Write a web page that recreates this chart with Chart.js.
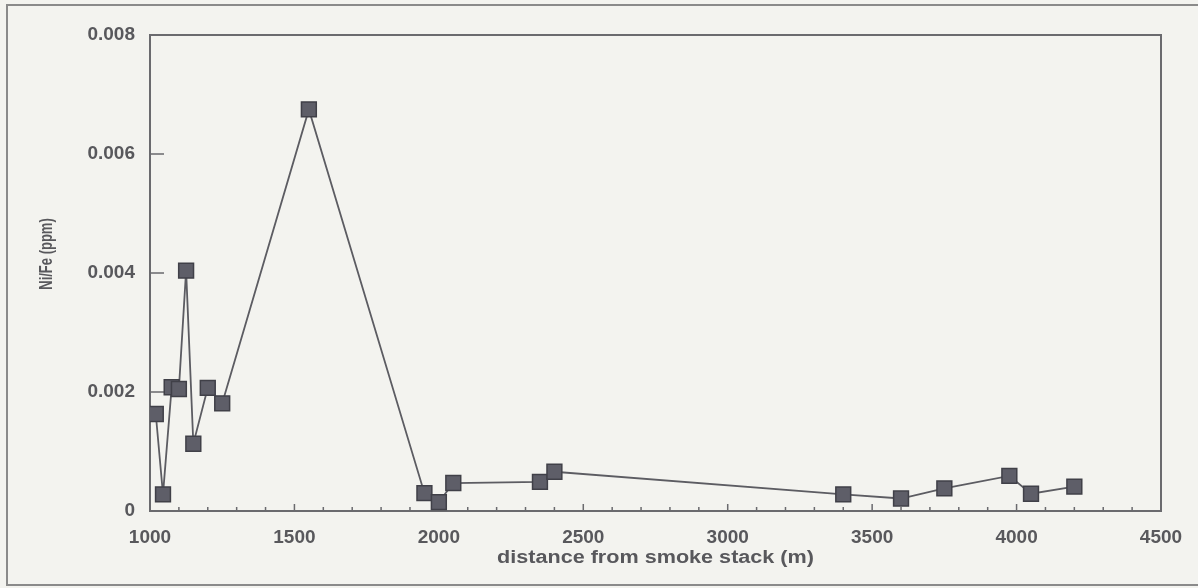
<!DOCTYPE html>
<html>
<head>
<meta charset="utf-8">
<script src="https://cdn.jsdelivr.net/npm/chart.js@4"></script>
<style>
  html, body { margin: 0; padding: 0; background: #f3f3ef; }
  #wrap { width: 1198px; height: 588px; position: relative; }
</style>
</head>
<body>
<div id="wrap"><canvas id="c" width="1198" height="588"></canvas></div>
<script>
// Distance from the smoke stack (m) for each sample
const distances = [1020, 1045, 1075, 1100, 1125, 1150, 1200, 1250, 1550, 1950,
                   2000, 2050, 2350, 2400, 3400, 3600, 3750, 3975, 4050, 4200];
// Ni/Fe ratio (ppm) measured at each distance
const niFe = [0.00163, 0.00028, 0.00208, 0.00205, 0.00404, 0.00113, 0.00207, 0.00181, 0.00675, 0.00030,
              0.00015, 0.00047, 0.00049, 0.00066, 0.00028, 0.00021, 0.00038, 0.00059, 0.00029, 0.00041];
// Axis tick values
const xTicks = [1000, 1500, 2000, 2500, 3000, 3500, 4000, 4500];
const yTicks = [0, 0.002, 0.004, 0.006, 0.008];
const xTitle = 'distance from smoke stack (m)';
const yTitle = 'Ni/Fe (ppm)';

const points = distances.map((d, i) => ({ x: d, y: niFe[i] }));
const ink = '#58585c';

// Frame, inward tick marks and axis titles
const decor = {
  id: 'decor',
  beforeDatasetsDraw(chart) {
    const { ctx, chartArea: a, scales: { x, y } } = chart;
    ctx.save();
    // outer frame (left, top, bottom)
    ctx.strokeStyle = '#8a8a8a';
    ctx.lineWidth = 2;
    ctx.beginPath();
    ctx.moveTo(1198, 5); ctx.lineTo(7, 5); ctx.lineTo(7, 585); ctx.lineTo(1198, 585);
    ctx.stroke();
    // plot box
    ctx.strokeStyle = '#6a6a6e';
    ctx.lineWidth = 2;
    ctx.strokeRect(a.left, a.top, a.right - a.left, a.bottom - a.top);
    // x ticks: minor every 100, major every 500
    ctx.lineWidth = 1.5;
    ctx.beginPath();
    for (let v = x.min + 100; v < x.max; v += 100) {
      const px = x.getPixelForValue(v);
      const len = (v % 500 === 0) ? 7 : 4;
      ctx.moveTo(px, a.bottom); ctx.lineTo(px, a.bottom - len);
    }
    // y ticks
    yTicks.forEach(v => {
      if (v <= y.min || v >= y.max) return;
      const py = y.getPixelForValue(v);
      ctx.moveTo(a.left, py); ctx.lineTo(a.left + 14, py);
    });
    ctx.stroke();
    // axis titles
    ctx.fillStyle = ink;
    ctx.textAlign = 'center';
    ctx.textBaseline = 'middle';
    ctx.font = 'bold 18px "Liberation Sans", Arial, sans-serif';
    ctx.save();
    ctx.translate((a.left + a.right) / 2, 558);
    ctx.scale(1.2, 1);
    ctx.fillText(xTitle, 0, 0);
    ctx.restore();
    ctx.font = 'bold 13px "Liberation Sans", Arial, sans-serif';
    ctx.save();
    ctx.translate(47, 254);
    ctx.rotate(-Math.PI / 2);
    ctx.scale(1, 1.35);
    ctx.fillText(yTitle, 0, 0);
    ctx.restore();
    ctx.restore();
  }
};

new Chart(document.getElementById('c'), {
  type: 'scatter',
  data: {
    datasets: [{
      data: points,
      showLine: true,
      borderColor: '#5c5c62',
      borderWidth: 1.8,
      pointStyle: 'rect',
      pointRadius: 10.5,
      pointHoverRadius: 10.5,
      pointBackgroundColor: '#5e5e68',
      pointBorderColor: '#404048',
      pointBorderWidth: 1.5
    }]
  },
  options: {
    responsive: false,
    animation: false,
    events: [],
    layout: { padding: { left: 0, top: 35, right: 37, bottom: 0 } },
    plugins: { legend: { display: false }, tooltip: { enabled: false } },
    scales: {
      x: {
        type: 'linear',
        min: xTicks[0],
        max: xTicks[xTicks.length - 1],
        afterBuildTicks: s => { s.ticks = xTicks.map(v => ({ value: v })); },
        afterFit: s => { s.height = 77; },
        grid: { display: false, drawTicks: false },
        border: { display: false },
        ticks: {
          padding: 15,
          color: ink,
          font: { family: '"Liberation Sans", Arial, sans-serif', size: 19, weight: 'bold' },
          maxRotation: 0,
          callback: v => String(v)
        }
      },
      y: {
        type: 'linear',
        min: yTicks[0],
        max: yTicks[yTicks.length - 1],
        afterBuildTicks: s => { s.ticks = yTicks.map(v => ({ value: v })); },
        afterFit: s => { s.width = 150; },
        grid: { display: false, drawTicks: false },
        border: { display: false },
        ticks: {
          padding: 15,
          color: ink,
          font: { family: '"Liberation Sans", Arial, sans-serif', size: 19, weight: 'bold' },
          callback: v => (v === 0 ? '0' : v.toFixed(3))
        }
      }
    }
  },
  plugins: [decor]
});
</script>
</body>
</html>
